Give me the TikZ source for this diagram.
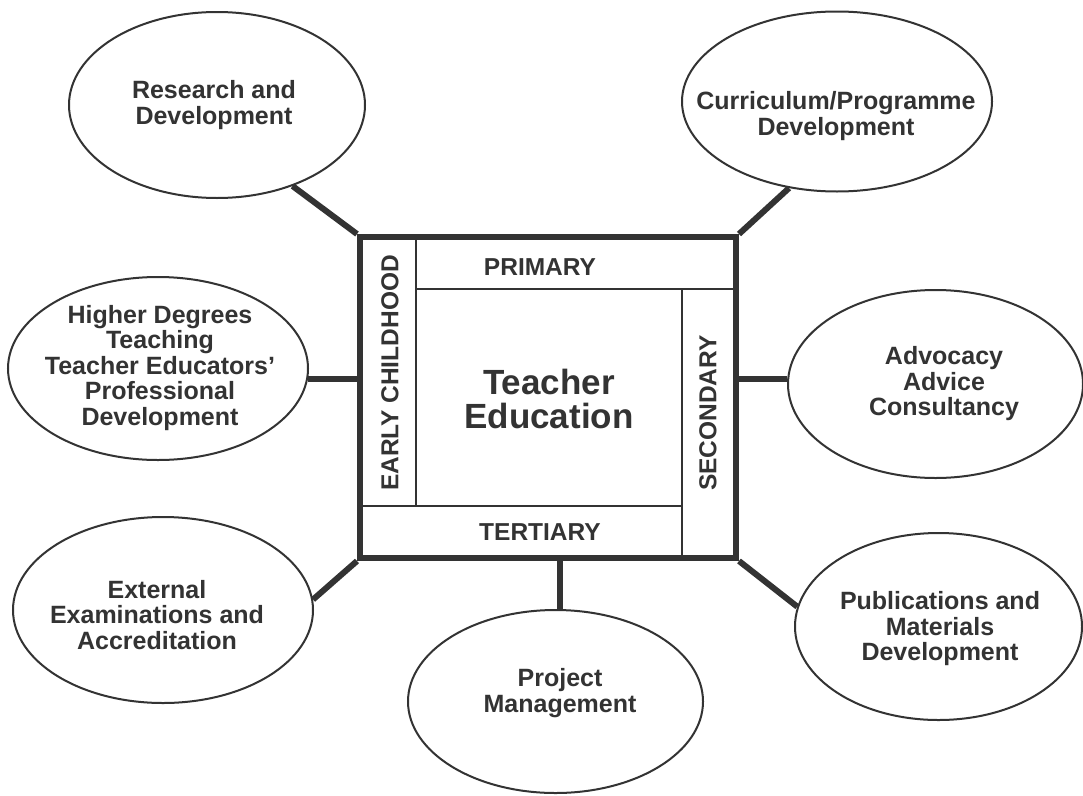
\documentclass[tikz,border=0pt]{standalone}
\usepackage{fontspec}
\setmainfont{Liberation Sans}
\usetikzlibrary{shapes.geometric}

\definecolor{ink}{HTML}{333333}

\begin{document}
\begin{tikzpicture}[x=1pt,y=-1pt,draw=ink,text=ink]
        \tikzstyle{topic}=[ellipse, draw, fill=white, line width=2pt, inner sep=0pt, minimum width=296pt, minimum height=186pt]
        \tikzstyle{tag}=[align=center, font=\fontsize{25}{25.5}\selectfont\bfseries]
        \tikzstyle{band}=[font=\fontsize{24.5}{26}\selectfont\bfseries]
        \tikzstyle{spoke}=[line width=6pt]
        \tikzstyle{cell}=[line width=1.2pt]

        \fill[white] (0,0) rectangle (1083,795);
        \useasboundingbox (0,0) rectangle (1083,795);

        % the four bands round the centre
        \draw[cell] (360,237) rectangle (416,506);
        \draw[cell] (416,237) rectangle (736,289);
        \draw[cell] (682,289) rectangle (736,558);
        \draw[cell] (360,506) rectangle (682,558);
        \node[draw, line width=6pt, minimum width=376pt, minimum height=321pt] (box) at (548,397.5) {};

        \node[band]           (primary)   at (540,267) {PRIMARY};
        \node[band]           (tertiary)  at (540,532) {TERTIARY};
        \node[band, rotate=90] (early)    at (390,373) {EARLY CHILDHOOD};
        \node[band, rotate=90] (secondary) at (708,413) {SECONDARY};
        \node[align=center, font=\fontsize{35}{34}\selectfont\bfseries] (te) at (549,399) {Teacher\\Education};

        % outer ellipses
        \node[topic]                                    (rd) at (217,105) {};
        \node[topic, minimum width=310pt, minimum height=180pt] (cd) at (837,101.5) {};
        \node[topic, minimum width=300pt, minimum height=183pt] (hd) at (158,368.5) {};
        \node[topic, minimum width=295pt, minimum height=188pt] (ad) at (935.5,384) {};
        \node[topic, minimum width=300pt]                (ex) at (163,610) {};
        \node[topic, minimum width=295pt, minimum height=183pt] (pm) at (555.5,701.5) {};
        \node[topic, minimum width=287pt, minimum height=187pt] (pb) at (938.5,626.5) {};

        \node[tag] (rdtxt) at (214,105) {Research and\\Development};
        \node[tag] (cdtxt) at (836,116) {Curriculum/Programme\\Development};
        \node[tag] (hdtxt) at (160,368) {Higher Degrees\\Teaching\\Teacher Educators’\\Professional\\Development};
        \node[tag] (adtxt) at (944,384) {Advocacy\\Advice\\Consultancy};
        \node[tag] (extxt) at (157,615) {External\\Examinations and\\Accreditation};
        \node[tag] (pmtxt) at (560,693) {Project\\Management};
        \node[tag] (pbtxt) at (940,629) {Publications and\\Materials\\Development};

        % spokes
        \draw[spoke] (box.north west) -- (rd.-47);
        \draw[spoke] (box.north east) -- (cd.-119);
        \draw[spoke] (hd.-4) -- (hd.-4 -| box.west);
        \draw[spoke] (ad.178) -- (ad.178 -| box.east);
        \draw[spoke] (box.south west) -- (ex.4);
        \draw[spoke] (pm.87) -- (pm.87 |- box.south);
        \draw[spoke] (box.south east) -- (pb.172);
\end{tikzpicture}
\end{document}
